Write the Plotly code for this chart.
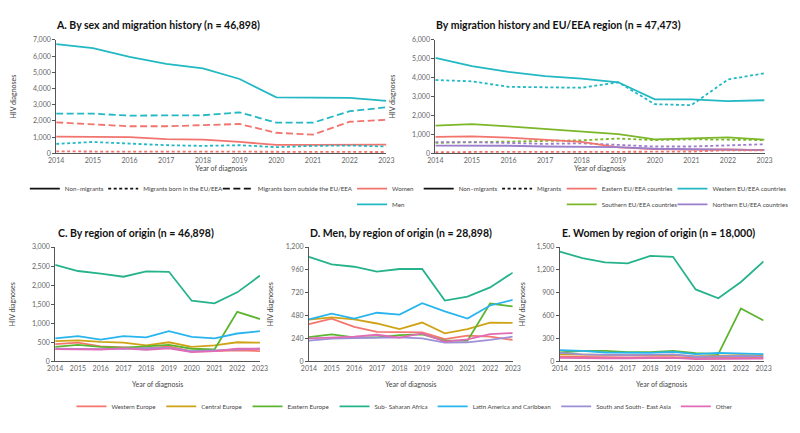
import plotly.graph_objects as go

# The page body adds an 8px margin, so the figure is sized to the visible area
# and every layout position below is given in reference-picture pixels.
OFF = 8
W, H = 800 - OFF, 433 - OFF
FONT = "Lato"
LEGSIZE = 6.2

years = [2014, 2015, 2016, 2017, 2018, 2019, 2020, 2021, 2022, 2023]

# ---------- Panel A: by sex and migration history ----------
a_men_non = [6740, 6500, 5960, 5530, 5250, 4590, 3460, 3420, 3420, 3240]
a_men_eu = [580, 700, 600, 500, 460, 500, 380, 460, 480, 420]
a_men_out = [2450, 2450, 2330, 2350, 2350, 2530, 1890, 1890, 2600, 2840]
a_women_non = [1030, 1000, 1000, 880, 850, 700, 520, 520, 540, 540]
a_women_eu = [120, 100, 100, 110, 100, 110, 80, 80, 80, 80]
a_women_out = [1910, 1770, 1670, 1670, 1750, 1810, 1270, 1150, 1950, 2070]

# ---------- Panel B: by migration history and EU/EEA region ----------
b_west_non = [5050, 4620, 4310, 4090, 3950, 3760, 2860, 2860, 2760, 2810]
b_west_mig = [3880, 3810, 3520, 3500, 3470, 3760, 2600, 2550, 3910, 4240]
b_south_non = [1470, 1550, 1430, 1290, 1160, 1020, 740, 780, 840, 720]
b_south_mig = [550, 580, 600, 670, 690, 780, 700, 740, 700, 700]
b_east_non = [870, 900, 830, 700, 600, 310, 220, 190, 210, 170]
b_east_mig = [60, 80, 80, 70, 70, 80, 60, 90, 160, 150]
b_north_non = [410, 410, 400, 360, 340, 330, 240, 210, 190, 170]
b_north_mig = [590, 590, 550, 500, 530, 450, 360, 360, 430, 480]

# ---------- Panels C, D, E: by region of origin ----------
regions = ["Western Europe", "Central Europe", "Eastern Europe", "Sub- Saharan Africa",
           "Latin America and Caribbean", "South and South– East Asia", "Other"]
c_values = {
    "Western Europe": [450, 490, 390, 360, 340, 390, 260, 270, 290, 270],
    "Central Europe": [530, 550, 510, 490, 420, 500, 380, 420, 500, 490],
    "Eastern Europe": [380, 430, 380, 360, 390, 430, 330, 310, 1300, 1110],
    "Sub- Saharan Africa": [2530, 2370, 2300, 2220, 2360, 2350, 1590, 1520, 1810, 2250],
    "Latin America and Caribbean": [600, 660, 570, 660, 630, 790, 640, 600, 730, 790],
    "South and South– East Asia": [330, 320, 320, 330, 340, 350, 270, 290, 310, 330],
    "Other": [320, 310, 310, 340, 300, 340, 240, 270, 330, 330],
}
d_values = {
    "Western Europe": [390, 448, 362, 310, 307, 303, 234, 269, 259, 224],
    "Central Europe": [438, 462, 441, 397, 338, 407, 293, 338, 407, 403],
    "Eastern Europe": [255, 283, 252, 252, 276, 283, 217, 217, 607, 576],
    "Sub- Saharan Africa": [1097, 1017, 993, 941, 969, 969, 638, 679, 776, 931],
    "Latin America and Caribbean": [441, 500, 448, 510, 490, 610, 524, 448, 586, 645],
    "South and South– East Asia": [217, 238, 245, 245, 252, 241, 197, 200, 224, 259],
    "Other": [241, 252, 259, 279, 248, 293, 207, 231, 286, 297],
}
e_values = {
    "Western Europe": [60, 55, 50, 50, 55, 55, 45, 45, 50, 45],
    "Central Europe": [90, 85, 80, 80, 80, 85, 65, 70, 80, 75],
    "Eastern Europe": [116, 137, 137, 120, 120, 137, 107, 94, 694, 536],
    "Sub- Saharan Africa": [1440, 1354, 1299, 1286, 1384, 1371, 943, 827, 1041, 1311],
    "Latin America and Caribbean": [146, 137, 116, 116, 111, 124, 94, 111, 107, 94],
    "South and South– East Asia": [110, 90, 85, 80, 85, 90, 60, 65, 70, 65],
    "Other": [45, 40, 40, 40, 40, 45, 30, 30, 35, 35],
}

# ---------- styles ----------
RED = "#F2746E"
TEAL = "#22B8C4"
GREEN_B = "#7CB72A"
PURPLE = "#9C7FCB"
region_colors = {
    "Western Europe": "#F4766F",
    "Central Europe": "#CFA315",
    "Eastern Europe": "#5CB531",
    "Sub- Saharan Africa": "#26B38C",
    "Latin America and Caribbean": "#28B5EE",
    "South and South– East Asia": "#9D90D6",
    "Other": "#E06BB6",
}
SOLID = "solid"
SHORT = "3px,2.5px"
LONG = "7px,3.5px"
LW = 1.8


def px(x):
    return (x - OFF) / W


def py(y):
    return 1 - (y - OFF) / H


fig = go.Figure()


def line(x, y, color, dash, xa, ya):
    fig.add_trace(go.Scatter(x=x, y=y, mode="lines", line=dict(color=color, dash=dash, width=LW),
                             xaxis=xa, yaxis=ya, showlegend=False, hoverinfo="x+y"))


# Panel A
line(years, a_men_non, TEAL, SOLID, "x", "y")
line(years, a_men_out, TEAL, LONG, "x", "y")
line(years, a_women_out, RED, LONG, "x", "y")
line(years, a_women_non, RED, SOLID, "x", "y")
line(years, a_men_eu, TEAL, SHORT, "x", "y")
line(years, a_women_eu, RED, SHORT, "x", "y")

# Panel B
line(years, b_west_non, TEAL, SOLID, "x2", "y2")
line(years, b_west_mig, TEAL, SHORT, "x2", "y2")
line(years, b_south_non, GREEN_B, SOLID, "x2", "y2")
line(years, b_south_mig, GREEN_B, SHORT, "x2", "y2")
line(years, b_north_mig, PURPLE, SHORT, "x2", "y2")
line(years, b_east_non, RED, SOLID, "x2", "y2")
line(years, b_north_non, PURPLE, SOLID, "x2", "y2")
line(years, b_east_mig, RED, SHORT, "x2", "y2")

# Panels C, D, E
for vals, xa, ya in [(c_values, "x3", "y3"), (d_values, "x4", "y4"), (e_values, "x5", "y5")]:
    for r in regions:
        line(years, vals[r], region_colors[r], SOLID, xa, ya)

# ---------- legends (one small legend per entry for the top panels) ----------
legend_layouts = {}
LEGEND_STYLE = dict(orientation="h", bgcolor="rgba(0,0,0,0)", borderwidth=0,
                    font=dict(family=FONT, size=LEGSIZE, color="#444"))


def legend_item(name, color, dash, key, sym_px, yc_px):
    fig.add_trace(go.Scatter(x=[None], y=[None], mode="lines", name=name,
                             line=dict(color=color, dash=dash, width=LW),
                             legend=key, xaxis="x", yaxis="y", hoverinfo="skip"))
    legend_layouts[key] = dict(x=px(sym_px - 5), y=py(yc_px), xanchor="left", yanchor="middle",
                               **LEGEND_STYLE)


legA = [("Non–migrants", "#111", SOLID, 22, 187),
        ("Migrants born in the EU/EEA", "#111", SHORT, 102, 187),
        ("Migrants born outside the EU/EEA", "#111", LONG, 219, 187),
        ("Women", RED, SOLID, 356, 187),
        ("Men", TEAL, SOLID, 356, 203)]
legB = [("Non–migrants", "#111", SOLID, 424, 187),
        ("Migrants", "#111", SHORT, 504, 187),
        ("Eastern EU/EEA countries", RED, SOLID, 570, 187),
        ("Western EU/EEA countries", TEAL, SOLID, 683, 187),
        ("Southern EU/EEA countries", GREEN_B, SOLID, 570, 203),
        ("Northern EU/EEA countries", PURPLE, SOLID, 683, 203)]
k = 1
for item in legA + legB:
    key = "legend" if k == 1 else f"legend{k}"
    legend_item(item[0], item[1], item[2], key, item[3], item[4])
    k += 1

bottom_key = f"legend{k}"
for r in regions:
    fig.add_trace(go.Scatter(x=[None], y=[None], mode="lines", name=r,
                             line=dict(color=region_colors[r], width=LW),
                             legend=bottom_key, xaxis="x3", yaxis="y3", hoverinfo="skip"))
legend_layouts[bottom_key] = dict(x=px(405), y=py(409), xanchor="center", yanchor="middle",
                                  **LEGEND_STYLE)

# ---------- axes ----------
tickfont = dict(family=FONT, size=7, color="#666")
titlefont = dict(family=FONT, size=7, color="#444")


def xaxis(l, r, anchor, standoff):
    return dict(domain=[px(l), px(r)], anchor=anchor, range=[2014, 2023], tickvals=years,
                showline=True, linecolor="#555", linewidth=1, showgrid=False, zeroline=False,
                ticks="", tickfont=tickfont, fixedrange=True,
                title=dict(text="Year of diagnosis", font=titlefont, standoff=standoff))


def yaxis(t, b, anchor, top, dtick, standoff):
    return dict(domain=[py(b), py(t)], anchor=anchor, range=[0, top], dtick=dtick, tickformat=",d",
                showline=True, linecolor="#555", linewidth=1, showgrid=False, zeroline=False,
                ticks="outside", ticklen=3, tickcolor="#555", tickfont=tickfont, fixedrange=True,
                title=dict(text="HIV diagnoses", font=titlefont, standoff=standoff))


layout = dict(
    width=W, height=H, margin=dict(l=0, r=0, t=0, b=0),
    paper_bgcolor="white", plot_bgcolor="white",
    font=dict(family=FONT, color="#333"),
    xaxis=xaxis(49, 386, "y", 3),
    yaxis=yaxis(35.5, 151, "x", 7000, 1000, 15),
    xaxis2=xaxis(436, 772, "y2", 3),
    yaxis2=yaxis(35.5, 151, "x2", 6000, 1000, 15),
    xaxis3=xaxis(48, 257, "y3", 11),
    yaxis3=yaxis(246.5, 363, "x3", 3000, 500, 15),
    xaxis4=xaxis(307, 515, "y4", 11),
    yaxis4=yaxis(246.5, 363, "x4", 1200, 240, 11),
    xaxis5=xaxis(563, 771, "y5", 11),
    yaxis5=yaxis(246.5, 363, "x5", 1500, 300, 10),
)
layout.update(legend_layouts)

titles = [("A. By sex and migration history (n = 46,898)", 47, 20.5),
          ("By migration history and EU/EEA region (n = 47,473)", 435, 20.5),
          ("C. By region of origin (n = 46,898)", 49, 232),
          ("D. Men, by region of origin (n = 28,898)", 306, 232),
          ("E. Women by region of origin (n = 18,000)", 563, 232)]
layout["annotations"] = [dict(text=f"<b>{t}</b>", x=px(x), y=py(y), xref="paper", yref="paper",
                              xanchor="left", yanchor="middle", showarrow=False,
                              font=dict(family=FONT, size=10.5, color="#111")) for t, x, y in titles]

fig.update_layout(layout)
fig.write_html("out.html")
